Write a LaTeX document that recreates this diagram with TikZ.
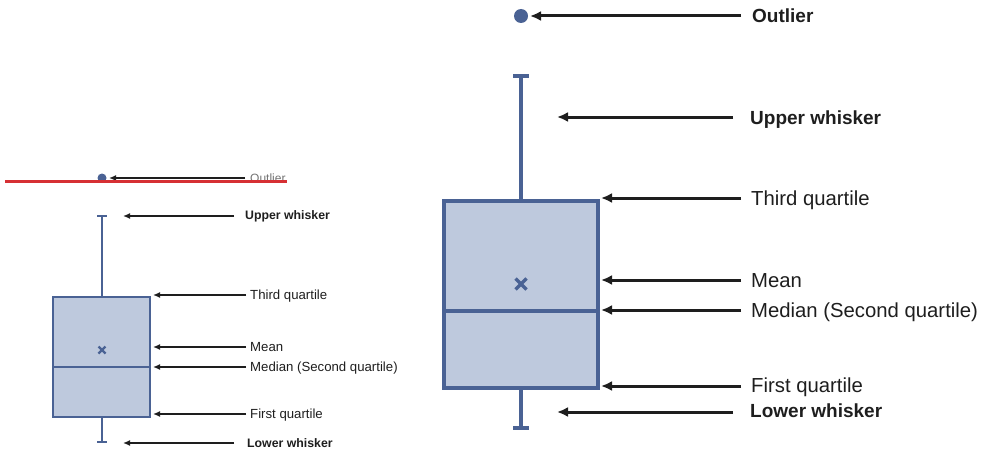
\documentclass[tikz,border=0pt]{standalone}
\usepackage{fontspec}
\setmainfont{Liberation Sans}
\usetikzlibrary{arrows.meta}
\definecolor{bxline}{RGB}{74,98,148}
\definecolor{bxfill}{RGB}{190,201,221}
\definecolor{txt}{RGB}{30,30,30}
\definecolor{redline}{RGB}{214,48,52}
\tikzset{
  bigarrow/.style={line width=3pt, txt, -{Latex[length=11pt,width=10pt]}},
  smallarrow/.style={line width=1.8pt, txt, -{Latex[length=7pt,width=6pt]}},
  rlab/.style={anchor=base west, inner sep=0pt, text=txt, font=\fontsize{20.3}{24}\selectfont},
  rblab/.style={anchor=base west, inner sep=0pt, text=txt, font=\fontsize{19}{23}\selectfont\bfseries},
  slab/.style={anchor=base west, inner sep=0pt, text=txt, font=\fontsize{13.2}{16}\selectfont},
  sblab/.style={anchor=base west, inner sep=0pt, text=txt, font=\fontsize{12.3}{15}\selectfont\bfseries},
  bigbox/.style={draw=bxline, fill=bxfill, line width=3.5pt},
  smallbox/.style={draw=bxline, fill=bxfill, line width=2.2pt},
  bigline/.style={bxline, line width=3.5pt},
  smallline/.style={bxline, line width=2.2pt},
}
\begin{document}
\begin{tikzpicture}[x=1pt,y=-1pt]
\useasboundingbox (0,0) rectangle (983,452);

% ---------- large box plot (right) ----------
\draw[bigline] (513,76) -- (529,76);
\draw[bigline] (521,76) -- (521,201);
\draw[bigline] (521,388) -- (521,428);
\draw[bigline] (513,428) -- (529,428);
\draw[bigbox] (444,201) rectangle (598,388);
\draw[bigline] (444,311) -- (598,311);
\draw[bigline] (515.5,278.5) -- (526.5,289.5) (515.5,289.5) -- (526.5,278.5);
\node[circle, fill=bxline, minimum size=14pt, inner sep=0pt] (Rdot) at (521,16) {};

\node[rblab] (RLout) at (752,22.8) {Outlier};
\node[rblab] (RLup) at (750,124.8) {Upper whisker};
\node[rlab] (RLq3) at (751,205.3) {Third quartile};
\node[rlab] (RLmean) at (751,287.3) {Mean};
\node[rlab] (RLmed) at (751,317.3) {Median (Second quartile)};
\node[rlab] (RLq1) at (751,392.3) {First quartile};
\node[rblab] (RLlow) at (750,417.8) {Lower whisker};

\coordinate (Ra1) at (741,16);  \coordinate (Rb1) at (530,16);
\coordinate (Ra2) at (733,117); \coordinate (Rb2) at (557,117);
\coordinate (Ra3) at (741,198); \coordinate (Rb3) at (601,198);
\coordinate (Ra4) at (741,280); \coordinate (Rb4) at (601,280);
\coordinate (Ra5) at (741,310); \coordinate (Rb5) at (601,310);
\coordinate (Ra6) at (741,386); \coordinate (Rb6) at (601,386);
\coordinate (Ra7) at (733,412); \coordinate (Rb7) at (557,412);
\foreach \i in {1,...,7} { \draw[bigarrow] (Ra\i) -- (Rb\i); }

% ---------- small box plot (left) ----------
\draw[smallline] (97,216) -- (107,216);
\draw[smallline] (102,216) -- (102,297);
\draw[smallline] (102,417) -- (102,442);
\draw[smallline] (97,442) -- (107,442);
\draw[smallbox] (53,297) rectangle (150,417);
\draw[smallline] (53,367) -- (150,367);
\draw[smallline] (98.5,346.5) -- (105.5,353.5) (98.5,353.5) -- (105.5,346.5);
\node[circle, fill=bxline, minimum size=9pt, inner sep=0pt] (Ldot) at (102,178) {};

\node[slab, text=black!55, font=\fontsize{12}{14}\selectfont] (LLout) at (250,182.3) {Outlier};
\node[sblab] (LLup) at (245,219.4) {Upper whisker};
\node[slab] (LLq3) at (250,299.7) {Third quartile};
\node[slab] (LLmean) at (250,351.7) {Mean};
\node[slab] (LLmed) at (250,371.7) {Median (Second quartile)};
\node[slab] (LLq1) at (250,418.7) {First quartile};
\node[sblab] (LLlow) at (247,447.4) {Lower whisker};

\coordinate (La1) at (245,178); \coordinate (Lb1) at (109,178);
\coordinate (La2) at (234,216); \coordinate (Lb2) at (123,216);
\coordinate (La3) at (246,295); \coordinate (Lb3) at (153,295);
\coordinate (La4) at (246,347); \coordinate (Lb4) at (153,347);
\coordinate (La5) at (246,367); \coordinate (Lb5) at (153,367);
\coordinate (La6) at (246,414); \coordinate (Lb6) at (153,414);
\coordinate (La7) at (234,443); \coordinate (Lb7) at (123,443);
\foreach \i in {1,...,7} { \draw[smallarrow] (La\i) -- (Lb\i); }

% red strike line
\coordinate (R1) at (5,181); \coordinate (R2) at (287,181);
\draw[redline, line width=3pt] (R1) -- (R2);
\end{tikzpicture}
\end{document}
